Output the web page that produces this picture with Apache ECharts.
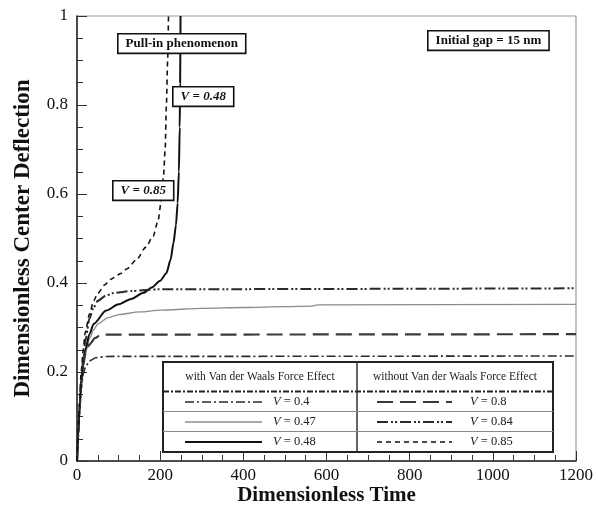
<!DOCTYPE html>
<html><head><meta charset="utf-8">
<script src="https://cdn.jsdelivr.net/npm/echarts@6/dist/echarts.min.js"></script>
<style>html,body{margin:0;padding:0;background:#fff}#c{width:598px;height:507px}</style>
</head><body><div id="c"></div>
<script>
// ---- data ----
const xName = 'Dimensionless Time';
const yName = 'Dimensionless Center Deflection';
const withLabel = 'with Van der Waals Force Effect';
const withoutLabel = 'without Van der Waals Force Effect';
const withVolts = [0.4, 0.47, 0.48];
const withoutVolts = [0.8, 0.84, 0.85];

const v040 = [[0,0],[3,0.06],[6,0.11],[10,0.16],[15,0.195],[20,0.21],[30,0.225],[45,0.232],[70,0.235],[1200,0.236]];
const v047 = [[0,0],[3,0.06],[6,0.115],[10,0.17],[15,0.215],[20,0.24],[30,0.275],[40,0.295],[50,0.308],[75,0.322],[100,0.329],[150,0.335],[200,0.339],[300,0.343],[400,0.345],[500,0.347],[565,0.348],[580,0.351],[1200,0.352]];
const v048 = [[0,0],[3,0.06],[6,0.115],[10,0.172],[15,0.22],[20,0.25],[30,0.285],[40,0.308],[70,0.338],[100,0.352],[130,0.364],[160,0.378],[180,0.39],[200,0.405],[215,0.422],[225,0.452],[232,0.49],[238,0.53],[242,0.58],[245,0.65],[247,0.75],[248,0.85],[249,1.0]];
const v080 = [[0,0],[3,0.06],[6,0.115],[10,0.17],[15,0.215],[20,0.24],[30,0.262],[43,0.276],[55,0.282],[67,0.284],[1200,0.285]];
const v084 = [[0,0],[3,0.065],[6,0.12],[10,0.18],[15,0.23],[20,0.27],[30,0.32],[40,0.345],[50,0.36],[70,0.372],[90,0.378],[130,0.382],[200,0.386],[1200,0.388]];
const v085 = [[0,0],[3,0.07],[6,0.13],[10,0.2],[15,0.25],[20,0.29],[30,0.33],[40,0.36],[50,0.377],[67,0.396],[80,0.408],[107,0.422],[120,0.432],[143,0.452],[165,0.48],[183,0.505],[195,0.54],[202,0.58],[208,0.64],[212,0.7],[215,0.8],[218,0.9],[220,1.0]];

const annPull = 'Pull-in phenomenon';
const annGap = 'Initial gap = 15 nm';
const annV048 = 'V = 0.48';
const annV085 = 'V = 0.85';

// ---- styles ----
const FONT = '"Liberation Serif","Times New Roman",serif';
const styles = {
  '0.4':  {color:'#2a2a2a', width:1.6, type:[9,3,2,3]},
  '0.47': {color:'#8c8c8c', width:1.3, type:'solid'},
  '0.48': {color:'#111111', width:2, type:'solid'},
  '0.8':  {color:'#3a3a3a', width:2.2, type:[16,7]},
  '0.84': {color:'#2a2a2a', width:2, type:[11,3,2,2,2,3]},
  '0.85': {color:'#111111', width:1.6, type:[5,4]}
};
const dataMap = {'0.4':v040,'0.47':v047,'0.48':v048,'0.8':v080,'0.84':v084,'0.85':v085};

const series = Object.keys(dataMap).map(k => ({
  name: 'V = ' + k, type: 'line', data: dataMap[k], showSymbol: false, symbol: 'none',
  smooth: 0.25, smoothMonotone: 'x', clip: true,
  lineStyle: {color: styles[k].color, width: styles[k].width, type: styles[k].type},
  emphasis: {disabled: true}, z: 2
}));

// ---- graphics: annotations and legend table ----
function boxText(x, y, txt, italic) {
  return {type:'text', left:x, top:y, z:100,
    style:{text:txt, font:(italic?'italic ':'')+'bold 13px '+FONT, fill:'#111',
      backgroundColor:'#fff', borderColor:'#111', borderWidth:1.6, padding:[3,7,2,7]}};
}
const g = [];
g.push(boxText(117, 33, annPull, false));
g.push(boxText(172, 86, annV048, true));
g.push(boxText(112, 180, annV085, true));
g.push(boxText(427, 30, annGap, false));

// legend table
const L = 163, R = 553, T = 362, B = 452, M = 357, H1 = 391.5, rows = [411.5, 431.5];
g.push({type:'rect', z:90, shape:{x:L, y:T, width:R-L, height:B-T}, style:{fill:'#fff', stroke:'#222', lineWidth:2}});
g.push({type:'line', z:91, shape:{x1:M, y1:T, x2:M, y2:B}, style:{stroke:'#333', lineWidth:1.5}});
g.push({type:'line', z:91, shape:{x1:L, y1:H1, x2:R, y2:H1}, style:{stroke:'#222', lineWidth:2.2, lineDash:[6,2,2,2]}});
rows.forEach(y => g.push({type:'line', z:91, shape:{x1:L, y1:y, x2:R, y2:y}, style:{stroke:'#888', lineWidth:1}}));
g.push({type:'text', z:92, x:(L+M)/2, y:377, style:{text:withLabel, font:'11.5px '+FONT, fill:'#222', align:'center', verticalAlign:'middle'}});
g.push({type:'text', z:92, x:(M+R)/2, y:377, style:{text:withoutLabel, font:'11.5px '+FONT, fill:'#222', align:'center', verticalAlign:'middle'}});
const rowY = [402, 422, 442];
function legendRow(v, y, x1, x2, tx) {
  const s = styles[String(v)];
  g.push({type:'line', z:92, shape:{x1:x1, y1:y, x2:x2, y2:y},
    style:{stroke:s.color, lineWidth:s.width, lineDash: Array.isArray(s.type)? s.type : null}});
  g.push({type:'text', z:92, x:tx, y:y, style:{
    text:'{i|V} = ' + v, font:'12.5px '+FONT, fill:'#222', verticalAlign:'middle',
    rich:{i:{fontStyle:'italic', fontSize:12.5, fontFamily:FONT, fill:'#222'}}}});
}
withVolts.forEach((v,i) => legendRow(v, rowY[i], 185, 262, 273));
withoutVolts.forEach((v,i) => legendRow(v, rowY[i], 377, 452, 470));

const chart = echarts.init(document.getElementById('c'), null, {renderer:'canvas'});
chart.setOption({
  animation: false,
  backgroundColor: '#fff',
  grid: {left:77, right:22, top:16, bottom:46, containLabel:false, outerBoundsMode:'none',
    show:true, borderColor:'#999', borderWidth:1.2},
  xAxis: {
    type:'value', min:0, max:1200, interval:200,
    name:xName, nameLocation:'middle', nameGap:24, nameMoveOverlap:false,
    nameTextStyle:{fontFamily:FONT, fontWeight:'bold', fontSize:21, color:'#111'},
    axisLine:{show:true, lineStyle:{color:'#222', width:1.5}},
    axisTick:{show:true, inside:true, length:10, lineStyle:{color:'#333'}},
    minorTick:{show:true, splitNumber:4, length:6, lineStyle:{color:'#333'}},
    splitLine:{show:false}, minorSplitLine:{show:false},
    axisLabel:{fontFamily:FONT, fontSize:17, color:'#111', margin:6, formatter: v => String(v)}
  },
  yAxis: {
    type:'value', min:0, max:1, interval:0.2,
    name:yName, nameLocation:'middle', nameGap:42, nameMoveOverlap:false,
    nameTextStyle:{fontFamily:FONT, fontWeight:'bold', fontSize:23, color:'#111'},
    axisLine:{show:true, lineStyle:{color:'#222', width:1.5}},
    axisTick:{show:true, inside:true, length:10, lineStyle:{color:'#333'}},
    minorTick:{show:true, splitNumber:4, length:6, lineStyle:{color:'#333'}},
    splitLine:{show:false}, minorSplitLine:{show:false},
    axisLabel:{fontFamily:FONT, fontSize:17, color:'#111', margin:9, formatter: v => String(+v.toFixed(2))}
  },
  series: series,
  graphic: g
});
</script></body></html>
